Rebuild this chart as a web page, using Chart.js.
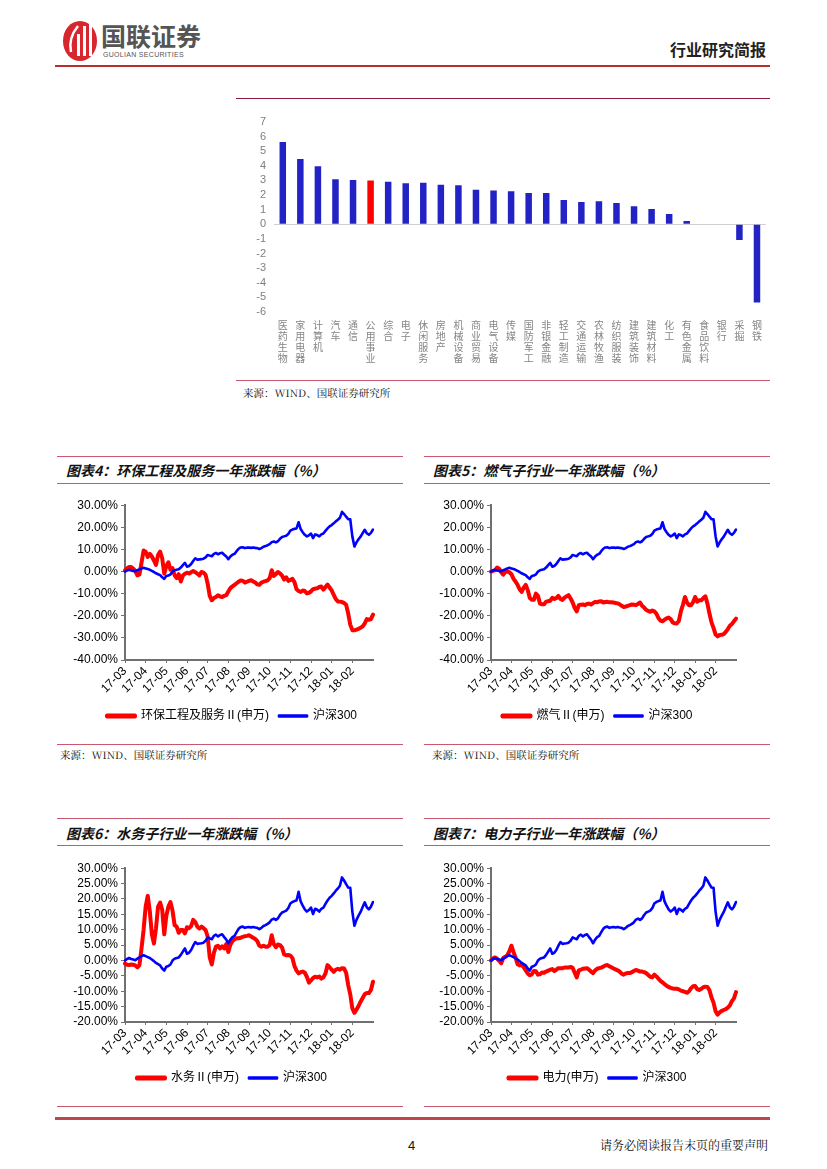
<!DOCTYPE html>
<html><head><meta charset="utf-8">
<script src="https://cdn.jsdelivr.net/npm/chart.js@4.4.1/dist/chart.umd.min.js"></script>
<style>
html,body{margin:0;padding:0;background:#fff;overflow:hidden;}
#page{position:relative;width:827px;height:1169px;overflow:hidden;font-family:"Noto Sans CJK SC",sans-serif;}
.hl{position:absolute;height:0;border-top:1px solid #c8586e;}
.t{position:absolute;white-space:nowrap;line-height:1;}
.title{font-size:14px;font-weight:bold;font-style:italic;color:#111;}
.src{font-size:10.5px;color:#111;font-family:"Noto Serif CJK SC","Noto Sans CJK SC",serif;}
canvas{position:absolute;}
</style></head>
<body><div id="page">
<svg style="position:absolute;left:62px;top:18px" width="38" height="44" viewBox="0 0 38 44">
  <ellipse cx="18" cy="23" rx="17" ry="20" fill="#d7262e"/>
  <path d="M9 34 Q6 20 16 8" stroke="#fff" stroke-width="2.5" fill="none"/>
  <rect x="15" y="16" width="3" height="22" fill="#fff"/>
  <rect x="21" y="8" width="3" height="30" fill="#fff"/>
  <rect x="27" y="2" width="3" height="36" fill="#fff"/>
</svg>
<div class="t" style="left:101px;top:23px;font-size:25px;font-weight:bold;color:#555;">国联证券</div>
<div class="t" style="left:103px;top:51px;font-size:7px;color:#555;font-family:'Liberation Sans';letter-spacing:0.3px;">GUOLIAN SECURITIES</div>
<div class="t" style="right:61px;top:41px;font-size:16px;font-weight:bold;color:#222;">行业研究简报</div>
<div style="position:absolute;left:55px;top:65px;width:715px;height:2px;background:#b8302e;"></div>

<div style="position:absolute;left:236px;top:98px;width:534px;height:1px;background:#8c1c3c;"></div>
<canvas id="bar" width="534" height="278" style="left:236px;top:100px;"></canvas>
<div class="hl" style="left:236px;top:380px;width:534px;"></div>
<div class="t src" style="left:243px;top:388px;">来源：WIND、国联证券研究所</div>

<div class="hl" style="left:57px;top:456px;width:346px;"></div>
<div class="hl" style="left:424px;top:456px;width:346px;"></div>
<div class="t title" style="left:66px;top:463px;">图表4：环保工程及服务一年涨跌幅（%）</div>
<div class="t title" style="left:433px;top:463px;">图表5：燃气子行业一年涨跌幅（%）</div>
<div class="hl" style="left:57px;top:483px;width:346px;"></div>
<div class="hl" style="left:424px;top:483px;width:346px;"></div>
<canvas id="c4" width="344" height="237" style="left:60px;top:495px;"></canvas>
<canvas id="c5" width="335" height="237" style="left:430px;top:495px;"></canvas>
<div class="hl" style="left:57px;top:744px;width:346px;"></div>
<div class="hl" style="left:424px;top:744px;width:346px;"></div>
<div class="t src" style="left:60px;top:750px;">来源：WIND、国联证券研究所</div>
<div class="t src" style="left:432px;top:750px;">来源：WIND、国联证券研究所</div>

<div class="hl" style="left:57px;top:818px;width:346px;"></div>
<div class="hl" style="left:424px;top:818px;width:346px;"></div>
<div class="t title" style="left:66px;top:826px;">图表6：水务子行业一年涨跌幅（%）</div>
<div class="t title" style="left:433px;top:826px;">图表7：电力子行业一年涨跌幅（%）</div>
<div class="hl" style="left:57px;top:845px;width:346px;"></div>
<div class="hl" style="left:424px;top:845px;width:346px;"></div>
<canvas id="c6" width="344" height="236" style="left:60px;top:858px;"></canvas>
<canvas id="c7" width="335" height="236" style="left:430px;top:858px;"></canvas>
<div class="hl" style="left:57px;top:1106px;width:346px;"></div>
<div class="hl" style="left:424px;top:1106px;width:346px;"></div>
<div style="position:absolute;left:55px;top:1117px;width:715px;height:3px;background:#c0464a;"></div>

<div class="t" style="left:408px;top:1139px;font-size:13px;font-family:'Liberation Sans';color:#111;">4</div>
<div class="t" style="right:59px;top:1139px;font-size:12px;color:#111;font-family:'Noto Serif CJK SC','Noto Sans CJK SC',serif;">请务必阅读报告末页的重要声明</div>
</div>
<script>
// ---- bar chart data ----
const barCats = ['医药生物','家用电器','计算机','汽车','通信','公用事业','综合','电子','休闲服务','房地产','机械设备','商业贸易','电气设备','传媒','国防军工','非银金融','轻工制造','交通运输','农林牧渔','纺织服装','建筑装饰','建筑材料','化工','有色金属','食品饮料','银行','采掘','钢铁'];
const barVals = [5.63,4.46,3.98,3.09,3.04,3.0,2.91,2.81,2.84,2.70,2.68,2.36,2.31,2.27,2.15,2.15,1.67,1.53,1.58,1.46,1.24,1.05,0.71,0.23,0,0,-1.08,-5.35];
const highlightCat = '公用事业';

// ---- line chart data (sampled every ~0.1 month, 2017-03 .. 2018-02 end) ----
const months = ['17-03','17-04','17-05','17-06','17-07','17-08','17-09','17-10','17-11','17-12','18-01','18-02'];
const hs300 = [0.0,0.5,0.8,0.5,0.3,0.1,0.6,1.0,1.4,1.7,
1.4,1.1,0.8,0.3,-0.2,-0.8,-1.2,-1.6,-2.6,-3.3,
-2.0,-1.8,-1.3,0.0,0.6,0.8,1.0,1.8,2.9,3.9,
2.2,2.5,3.4,4.8,6.0,5.4,5.5,5.6,5.8,6.4,
7.5,7.2,6.9,8.0,8.4,7.8,8.3,8.5,7.6,6.8,
5.6,6.8,7.6,8.0,9.2,10.3,10.9,11.0,10.6,10.8,
10.9,10.7,10.9,10.7,10.6,10.2,10.6,11.2,11.5,11.9,
12.4,13.3,13.6,13.2,13.7,14.8,15.6,15.9,16.2,17.0,
18.5,19.0,19.3,19.5,22.3,19.2,17.8,16.6,15.9,16.4,
17.2,15.1,16.8,16.5,15.9,16.8,17.2,18.4,19.5,20.4,
21.0,21.8,22.7,23.4,24.3,27.0,26.0,24.8,23.7,23.6,
15.9,11.3,13.2,14.6,15.8,17.4,18.9,17.3,16.6,17.5,
19.0];
const envEng = [0.5,1.5,2.0,2.0,1.3,0.2,-1.7,-1.3,4.0,9.5,
9.0,6.6,8.0,6.8,5.0,3.0,7.5,9.0,6.0,-1.0,
2.5,4.2,0.8,1.5,-1.7,-3.0,-1.2,-4.5,-1.8,-1.0,
-0.5,-0.9,-0.3,0.2,-0.3,-1.0,-1.7,-0.2,-0.5,-1.5,
-5.5,-11.0,-13.0,-12.0,-11.5,-10.7,-11.3,-11.5,-11.0,-10.7,
-9.0,-7.5,-6.7,-6.0,-5.3,-4.6,-4.0,-4.2,-5.0,-4.6,
-4.2,-3.9,-4.5,-5.0,-5.8,-6.0,-5.0,-4.6,-4.3,-4.0,
-3.0,0.6,-2.0,-1.2,-0.2,-0.8,-1.8,-3.6,-2.6,-4.2,
-3.8,-3.3,-4.8,-8.0,-8.8,-9.2,-8.6,-8.8,-9.9,-9.6,
-9.0,-8.0,-7.7,-7.6,-7.0,-6.8,-8.2,-7.0,-5.9,-7.2,
-8.5,-10.6,-12.5,-13.5,-13.6,-13.8,-14.2,-15.0,-19.0,-24.0,
-26.5,-26.6,-26.3,-25.9,-25.4,-24.8,-23.5,-21.5,-21.8,-21.5,
-19.5];
const gas = [0.0,0.3,0.6,1.8,1.3,-0.3,-1.4,-0.2,0.0,-0.3,
-1.2,-3.2,-4.5,-6.0,-8.0,-9.2,-7.3,-6.0,-8.4,-12.0,
-12.8,-12.8,-10.0,-11.0,-14.5,-14.8,-14.8,-13.6,-13.4,-13.2,
-11.9,-12.4,-12.0,-11.0,-12.4,-12.8,-11.8,-11.2,-10.7,-12.2,
-14.0,-16.5,-18.0,-15.2,-15.0,-14.9,-15.2,-14.7,-14.5,-14.9,
-14.3,-13.7,-13.9,-13.5,-13.4,-14.0,-13.8,-13.7,-13.9,-13.9,
-14.0,-14.2,-14.4,-14.8,-15.5,-16.0,-15.8,-15.5,-15.2,-14.9,
-15.0,-15.2,-14.6,-14.0,-15.5,-16.3,-17.3,-17.8,-18.2,-17.6,
-18.0,-19.0,-21.0,-22.2,-22.5,-21.8,-21.2,-20.8,-21.5,-23.0,
-23.4,-23.5,-22.4,-18.0,-15.0,-11.5,-14.0,-15.2,-15.2,-13.8,
-11.5,-13.6,-13.0,-13.0,-12.0,-11.2,-14.5,-19.0,-23.0,-25.5,
-28.5,-29.3,-28.7,-28.6,-28.3,-27.3,-26.0,-24.5,-23.7,-22.5,
-21.3];
const water = [-1.0,-1.4,-1.5,-1.3,-1.4,-1.6,-2.2,-1.5,4.0,10.0,
17.5,21.0,16.0,8.5,5.5,10.5,17.5,18.8,16.5,8.5,
14.5,17.5,19.0,16.2,11.5,11.0,9.0,9.9,9.9,8.8,
10.8,10.5,11.2,13.2,12.5,11.0,10.4,11.0,10.5,9.9,
7.8,1.0,-1.3,2.5,4.5,4.8,3.9,4.6,3.9,5.3,
2.8,5.2,6.3,6.9,7.2,7.2,7.4,7.7,7.9,8.0,
8.2,7.8,7.4,7.0,6.3,4.8,4.5,4.8,4.5,4.5,
5.0,8.2,5.3,4.3,5.2,5.0,4.2,2.0,1.7,1.8,
1.6,0.8,-1.8,-3.3,-4.2,-3.8,-3.6,-4.0,-5.3,-7.2,
-6.5,-5.7,-5.3,-5.5,-5.2,-5.9,-5.5,-4.2,-1.5,-2.2,
-3.0,-3.7,-3.0,-2.7,-3.0,-2.5,-2.6,-4.0,-8.0,-11.0,
-15.6,-17.0,-16.0,-14.8,-13.4,-12.2,-11.0,-10.6,-10.6,-9.6,
-6.9];
const power = [0.0,0.7,1.0,0.6,-0.1,-0.9,0.8,1.2,1.7,3.0,
4.8,2.8,1.0,-1.2,-1.6,-1.4,-2.2,-3.2,-4.2,-4.8,
-4.5,-3.4,-3.5,-4.6,-4.5,-3.9,-4.0,-3.6,-3.3,-3.0,
-2.8,-3.4,-3.0,-2.5,-2.5,-2.5,-2.3,-2.3,-2.3,-2.1,
-2.4,-4.0,-5.5,-3.2,-3.0,-2.7,-2.6,-2.5,-3.0,-3.6,
-4.1,-3.2,-2.7,-2.5,-2.3,-2.0,-1.6,-1.5,-1.9,-2.2,
-2.6,-2.9,-3.2,-3.6,-4.3,-4.6,-4.2,-4.1,-4.1,-3.8,
-3.4,-3.1,-3.3,-3.6,-3.6,-3.8,-4.1,-4.7,-5.3,-5.5,
-4.6,-5.2,-5.9,-6.6,-7.1,-7.7,-8.2,-8.6,-8.9,-9.1,
-9.2,-9.2,-9.4,-9.8,-10.0,-10.2,-10.5,-10.0,-9.0,-8.4,
-8.3,-9.3,-9.6,-9.2,-8.7,-8.5,-8.6,-9.7,-12.0,-13.7,
-16.5,-17.6,-16.9,-16.4,-16.1,-15.8,-15.3,-14.6,-13.2,-12.3,
-10.3];

// category labels for the sampled grid: month label at every 10th sample
const gridLabels = hs300.map((_, i) => (i % 10 === 0 && i / 10 < months.length) ? months[i / 10] : '');

const LAT = "'Liberation Sans','Noto Sans CJK SC',sans-serif";
const CJK = "'Noto Sans CJK SC',sans-serif";

// ---- bar chart ----
new Chart(document.getElementById('bar'), {
  type: 'bar',
  data: {
    labels: barCats.map(s => s.split('')),
    datasets: [{
      data: barVals,
      backgroundColor: c => barCats[c.index] === highlightCat ? '#ff0000' : '#2323c5',
      barPercentage: 0.37,
      categoryPercentage: 1
    }]
  },
  options: {
    responsive: false, animation: false,
    layout: {padding: {top: 22, right: 1, left: 0, bottom: 0}},
    plugins: {legend: {display: false}, tooltip: {enabled: false}},
    scales: {
      x: {
        grid: {display: false, drawTicks: false}, border: {display: false},
        ticks: {autoSkip: false, maxRotation: 0, minRotation: 0, padding: 8,
          font: {family: CJK, size: 10, lineHeight: 1.1}, color: '#858585'},
        afterFit: s => { s.height = 66; }
      },
      y: {
        min: -6, max: 7,
        ticks: {stepSize: 1, maxTicksLimit: 20, autoSkip: false, padding: 8, font: {family: LAT, size: 11}, color: '#7f7f7f'},
        grid: {drawTicks: false, color: c => (c.tick && c.tick.value === 0) ? '#d0d0d0' : 'rgba(0,0,0,0)'},
        border: {display: false},
        afterFit: s => { s.width = 38; }
      }
    }
  }
});

// ---- line charts ----
function lineChart(id, redName, redData, yMin, yMax, yStep, yW, rW) {
  new Chart(document.getElementById(id), {
    type: 'line',
    data: {
      labels: gridLabels,
      datasets: [
        {label: '沪深300', data: hs300, borderColor: '#0000ff', backgroundColor: '#0000ff',
         borderWidth: 2.6, pointRadius: 0, tension: 0, borderJoinStyle: 'round', borderCapStyle: 'round'},
        {label: redName, data: redData, borderColor: '#ff0000', backgroundColor: '#ff0000',
         borderWidth: 4, pointRadius: 0, tension: 0, borderJoinStyle: 'round', borderCapStyle: 'round'}
      ]
    },
    options: {
      responsive: false, animation: false,
      layout: {padding: {top: 10, right: 0, left: 0, bottom: 0}},
      plugins: {
        tooltip: {enabled: false},
        legend: {position: 'bottom', reverse: true,
          labels: {boxWidth: 28, boxHeight: 1, padding: 10, color: '#000', font: {family: LAT, size: 12}}}
      },
      scales: {
        x: {
          offset: false,
          grid: {display: true, drawOnChartArea: false, drawTicks: true, tickLength: 3, color: '#707070'},
          border: {display: true, color: '#707070', width: 2},
          ticks: {autoSkip: false, maxRotation: 45, minRotation: 45, padding: 1,
            font: {family: LAT, size: 12}, color: '#000',
            callback: (v, i) => gridLabels[i] || null},
          afterFit: s => { s.height = 40; }
        },
        y: {
          min: yMin, max: yMax,
          ticks: {stepSize: yStep, maxTicksLimit: 20, autoSkip: false, padding: 3,
            font: {family: LAT, size: 12}, color: '#000',
            callback: v => v.toFixed(2) + '%'},
          grid: {drawOnChartArea: false, tickLength: 4, color: '#707070'},
          border: {display: true, color: '#707070', width: 2},
          afterFit: s => { s.width = yW; }
        },
        yR: {
          position: 'right', display: true,
          grid: {display: false, drawTicks: false}, border: {display: false},
          ticks: {display: false},
          afterFit: s => { s.width = rW; }
        }
      }
    }
  });
}
lineChart('c4', '环保工程及服务Ⅱ(申万)', envEng, -40, 30, 10, 65, 31);
lineChart('c5', '燃气Ⅱ(申万)', gas, -40, 30, 10, 61, 29);
lineChart('c6', '水务Ⅱ(申万)', water, -20, 30, 5, 65, 31);
lineChart('c7', '电力(申万)', power, -20, 30, 5, 61, 29);
</script>
</body></html>
